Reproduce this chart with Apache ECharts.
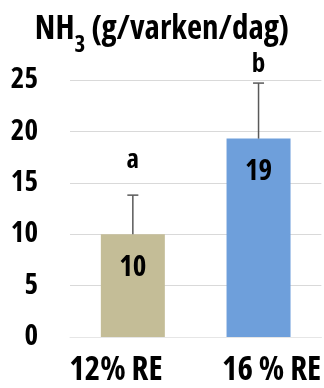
<!DOCTYPE html>
<html>
<head>
<meta charset="utf-8">
<script src="https://cdn.jsdelivr.net/npm/echarts@6/dist/echarts.min.js"></script>
<style>
  html, body { margin: 0; padding: 0; background: #fff; }
  #chart { width: 324px; height: 388px; }
</style>
</head>
<body>
<div id="chart"></div>
<script>
const categories = ['12% RE', '16 % RE']
const means = [10, 19.3]
const errorTop = [13.8, 24.7]
const valueLabels = ['10', '19']
const letters = ['a', 'b']
const letterPos = [17.2, 26.5]
const yTicks = [0, 5, 10, 15, 20, 25]

// condensed width of the Open Sans variable font
const FONT = '"Open Sans", sans-serif'
const WEIGHT = 'bold condensed'
const barColors = ['#c4bd97', '#6e9fdb']

const chart = echarts.init(document.getElementById('chart'), null, { renderer: 'canvas' })

chart.setOption({
  backgroundColor: '#fff',
  animation: false,
  title: {
    text: '{a|NH}{s|3}{a| (g/varken/dag)}',
    left: 'center',
    top: -2,
    textStyle: {
      rich: {
        a: { fontFamily: FONT, fontWeight: WEIGHT, fontSize: 33, color: '#000', verticalAlign: 'middle' },
        s: { fontFamily: FONT, fontWeight: WEIGHT, fontSize: 23, color: '#000', verticalAlign: 'bottom', lineHeight: 54 },
      },
    },
  },
  grid: { left: 70, right: 2, top: 80, bottom: 51, containLabel: false },
  xAxis: {
    type: 'category',
    data: [
      { value: categories[0], textStyle: { padding: [0, 34, 0, 0] } },
      { value: categories[1], textStyle: { padding: [0, 0, 0, 26] } },
    ],
    axisLine: { lineStyle: { color: '#e6e6e6' } },
    axisTick: { show: false },
    axisLabel: { interval: 0, fontFamily: FONT, fontWeight: WEIGHT, fontSize: 33, color: '#000', margin: 17 },
  },
  yAxis: {
    type: 'value',
    min: 0,
    max: 25,
    interval: 5,
    axisLine: { show: false },
    axisTick: { show: false },
    splitLine: { lineStyle: { color: '#d9d9d9', width: 1 } },
    axisLabel: {
      fontFamily: FONT, fontWeight: WEIGHT, fontSize: 29, color: '#000', margin: 32,
      formatter: v => yTicks.includes(v) ? String(v) : '',
    },
  },
  series: [
    {
      type: 'bar',
      barWidth: 64,
      data: means.map((v, i) => ({ value: v, itemStyle: { color: barColors[i] } })),
      label: {
        show: true,
        position: 'insideTop',
        distance: 19,
        fontFamily: FONT, fontWeight: WEIGHT, fontSize: 29, color: '#000',
        formatter: p => valueLabels[p.dataIndex],
      },
      z: 2,
    },
    {
      type: 'custom',
      z: 3,
      data: means.map((v, i) => [i, v, errorTop[i]]),
      renderItem: (params, api) => {
        const base = api.coord([api.value(0), api.value(1)])
        const top = api.coord([api.value(0), api.value(2)])
        const w = 5.5
        const style = { stroke: '#595959', lineWidth: 1.5 }
        return {
          type: 'group',
          children: [
            { type: 'line', shape: { x1: base[0], y1: base[1], x2: top[0], y2: top[1] }, style },
            { type: 'line', shape: { x1: top[0] - w, y1: top[1], x2: top[0] + w, y2: top[1] }, style },
          ],
        }
      },
    },
    {
      type: 'custom',
      z: 4,
      clip: false,
      data: letterPos.map((v, i) => [i, v]),
      renderItem: (params, api) => {
        const p = api.coord([api.value(0), api.value(1)])
        return {
          type: 'text',
          x: p[0],
          y: p[1],
          style: {
            text: letters[params.dataIndex],
            align: 'center',
            verticalAlign: 'middle',
            fontFamily: FONT, fontWeight: WEIGHT, fontSize: 27, fill: '#000',
          },
        }
      },
    },
  ],
})
</script>
</body>
</html>
